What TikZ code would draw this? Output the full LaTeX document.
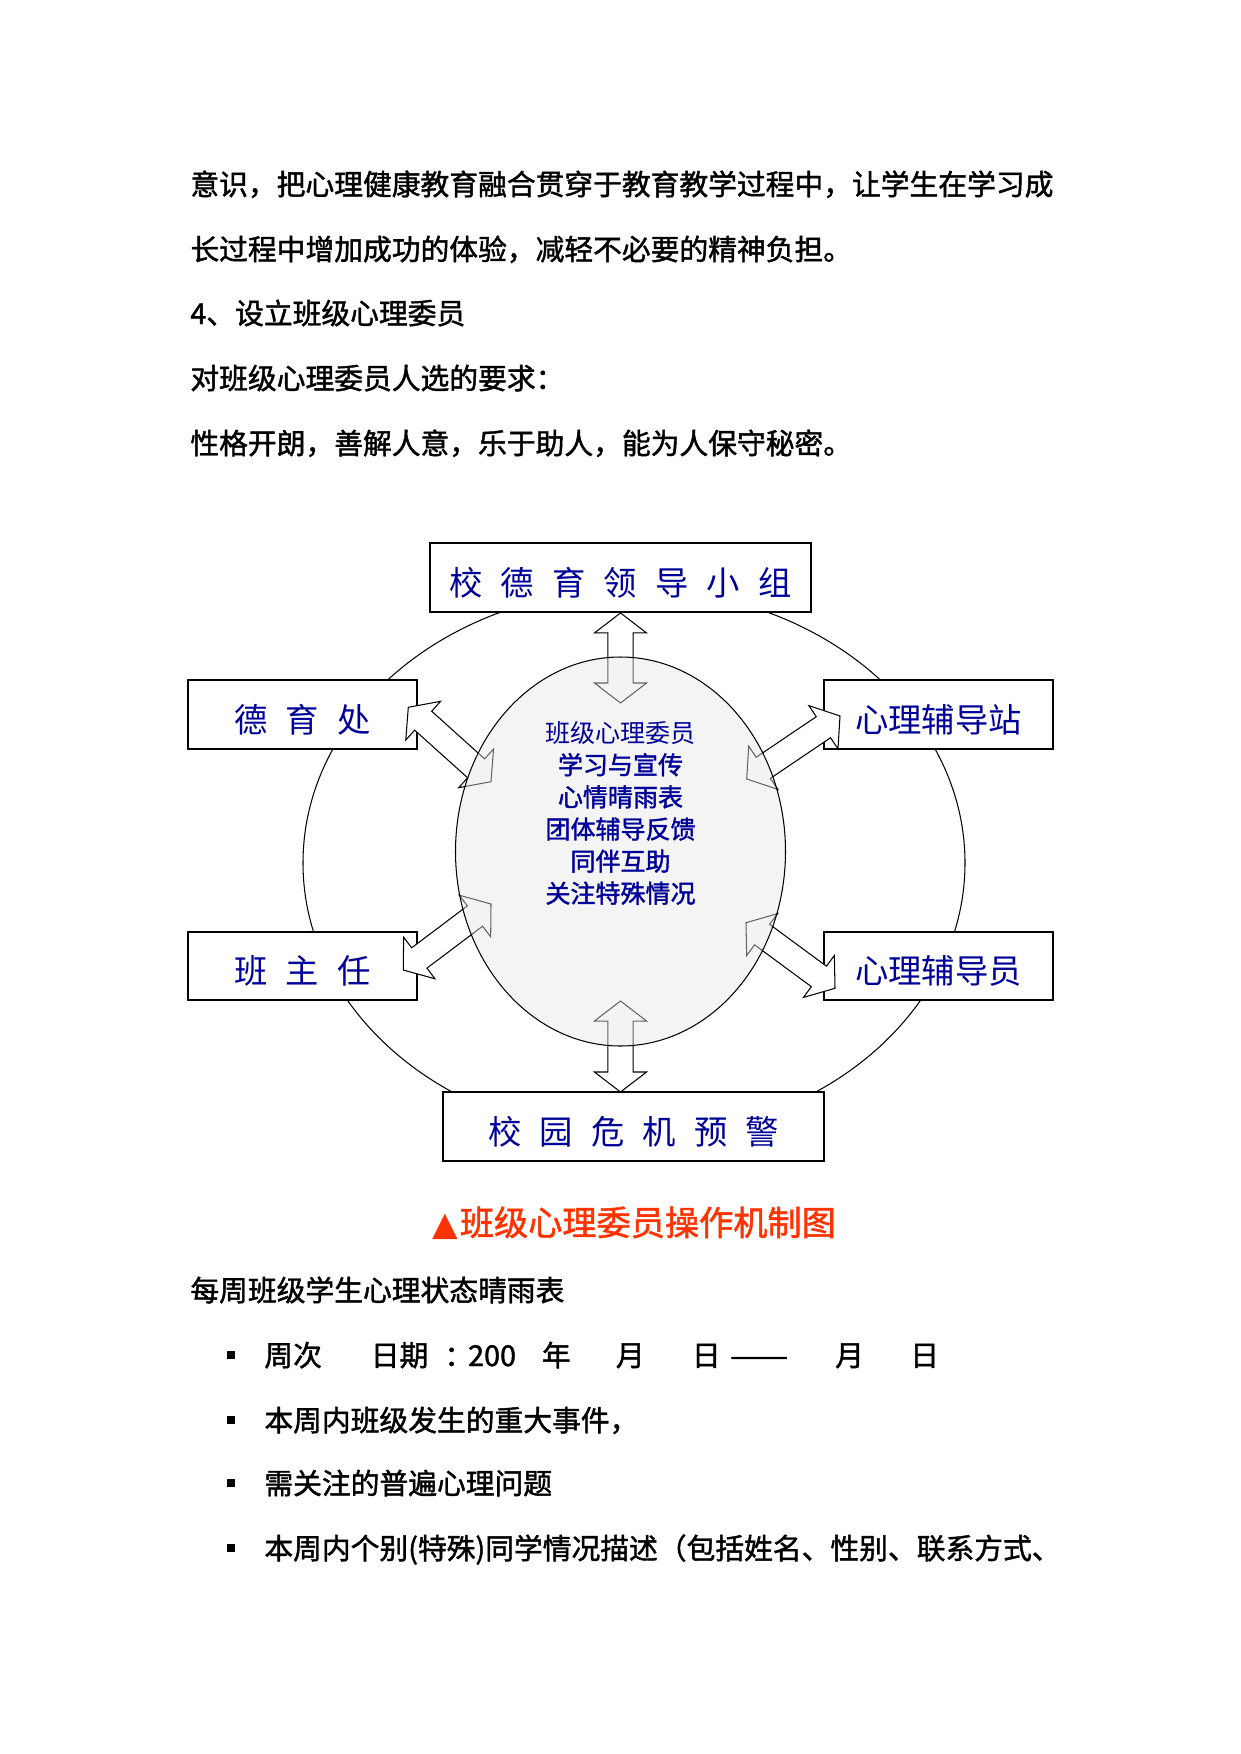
\documentclass[tikz,border=0pt]{standalone}
\usepackage{fontspec}
\usepackage{graphicx}
\usepackage{tikz}
\usetikzlibrary{calc,shapes.geometric}
\newfontfamily\cjk{Noto Sans CJK SC}
\newfontfamily\cjkb{Noto Sans CJK SC}[FakeBold=1.5]
\newfontfamily\symfont{DejaVu Sans}
\definecolor{boxInk}{HTML}{000099}
\definecolor{capRed}{HTML}{FF3300}
\definecolor{coreFill}{gray}{0.9}

% outline double arrow between two named points
\newcommand\dblarr[2]{%
  \coordinate (ha) at ($(#1)!9.6pt!(#2)$);
  \coordinate (hb) at ($(#2)!9.6pt!(#1)$);
  \draw[blockarr] (#1) -- ($(ha)!12.5pt!90:(#2)$) -- ($(ha)!6.1pt!90:(#2)$)
    -- ($(hb)!6.1pt!-90:(#1)$) -- ($(hb)!12.5pt!-90:(#1)$) -- (#2)
    -- ($(hb)!12.5pt!90:(#1)$) -- ($(hb)!6.1pt!90:(#1)$)
    -- ($(ha)!6.1pt!-90:(#2)$) -- ($(ha)!12.5pt!-90:(#2)$) -- cycle;}

\begin{document}
\begin{tikzpicture}[x=0.4797pt,y=-0.4797pt,
  body/.style={anchor=base west,inner sep=0pt,font=\cjkb\fontsize{13.8pt}{16pt}\selectfont},
  panel/.style={draw,line width=1pt,fill=white,text=boxInk,inner sep=0pt,minimum height=33pt,text height=17pt,text depth=0pt,
    font={\cjk\fontsize{16pt}{18pt}\selectfont\spaceskip=8.7pt\relax}},
  widepanel/.style={panel,minimum width=183pt},
  sidepanel/.style={panel,minimum width=109.6pt},
  blockarr/.style={draw=black,line width=.5pt,fill=white,line join=miter},
  dot/.style={fill,rectangle,minimum size=3.6pt,inner sep=0pt}
]
\useasboundingbox (0,0) rectangle (1241,1754);

% text above the chart
\node[body] (l1) at (190,195) {意识，把心理健康教育融合贯穿于教育教学过程中，让学生在学习成};
\node[body] (l2) at (190,260) {长过程中增加成功的体验，减轻不必要的精神负担。};
\node[body] (l3) at (190,324) {4、设立班级心理委员};
\node[body] (l4) at (190,389) {对班级心理委员人选的要求：};
\node[body] (l5) at (190,454) {性格开朗，善解人意，乐于助人，能为人保守秘密。};

% chart
\draw[line width=.5pt] (634,863) ellipse [x radius=331,y radius=274];

\node[widepanel] (lead) at (620.5,577.5) {校 德 育 领 导 小 组};
\node[sidepanel] (moral) at (302.6,714.8) {德 育 处};
\node[sidepanel] (station) at (938.4,714.8) {心理辅导站};
\node[sidepanel] (head) at (302.6,966) {班 主 任};
\node[sidepanel] (tutor) at (938.4,966) {心理辅导员};
\node[widepanel] (alarm) at (633.5,1126.5) {校 园 危 机 预 警};

\coordinate (leadIn) at (620.5,703);
\coordinate (alarmIn) at (620.5,1001);
\coordinate (alarmTip) at (620.5,1092);
\coordinate (moralTip) at (408.3,707.3);
\coordinate (moralIn) at (491,781.7);
\coordinate (stationTip) at (840,716);
\coordinate (stationIn) at (746.7,779);
\coordinate (headTip) at (403.3,970);
\coordinate (headIn) at (491,904);
\coordinate (tutorTip) at (835,988.3);
\coordinate (tutorIn) at (746,922.7);

\dblarr{lead.south}{leadIn}
\dblarr{alarmIn}{alarmTip}
\dblarr{moralTip}{moralIn}
\dblarr{stationTip}{stationIn}
\dblarr{headTip}{headIn}
\dblarr{tutorTip}{tutorIn}

\node[ellipse,draw,line width=.5pt,fill=coreFill,fill opacity=.435,minimum width=158.3pt,minimum height=186.6pt,inner sep=0pt] (core) at (620.5,851.5) {};
\node[align=center,text=boxInk,font=\cjk\fontsize{12pt}{15.4pt}\selectfont] (duties) at (620.5,813)
  {班级心理委员\\{\cjkb 学习与宣传}\\{\cjkb 心情晴雨表}\\{\cjkb 团体辅导反馈}\\{\cjkb 同伴互助}\\{\cjkb 关注特殊情况}};

\node[text=capRed,font=\cjkb\fontsize{16.4pt}{18pt}\selectfont] (caption) at (634,1223)
  {{\symfont\fontsize{16pt}{18pt}\selectfont ▲}\hspace{1pt}班级心理委员操作机制图};

% text below the chart
\node[body] (sheet) at (190,1301) {每周班级学生心理状态晴雨表};

\node[dot] (dot1) at (231,1355) {};
\node[dot] (dot2) at (231,1420) {};
\node[dot] (dot3) at (231,1483) {};
\node[dot] (dot4) at (231,1548) {};

\node[body] (week) at (264,1366) {周次};
\node[body] (date) at (370.4,1366) {日期};
\node[body] (colon) at (444,1366) {：};
\node[body] (year) at (467.7,1366) {200};
\node[body] (yr) at (541.6,1366) {年};
\node[body] (mo1) at (615.5,1366) {月};
\node[body] (dy1) at (691.5,1366) {日};
\node[body] (dash) at (729.6,1366) {\resizebox{27.9pt}{\height}{——}};
\node[body] (mo2) at (834.8,1366) {月};
\node[body] (dy2) at (909.8,1366) {日};

\node[body] (events) at (264,1431) {本周内班级发生的重大事件，};
\node[body] (issues) at (264,1494) {需关注的普遍心理问题};
\node[body] (cases) at (264,1559) {本周内个别(特殊)同学情况描述（包括姓名、性别、联系方式、};
\end{tikzpicture}
\end{document}
